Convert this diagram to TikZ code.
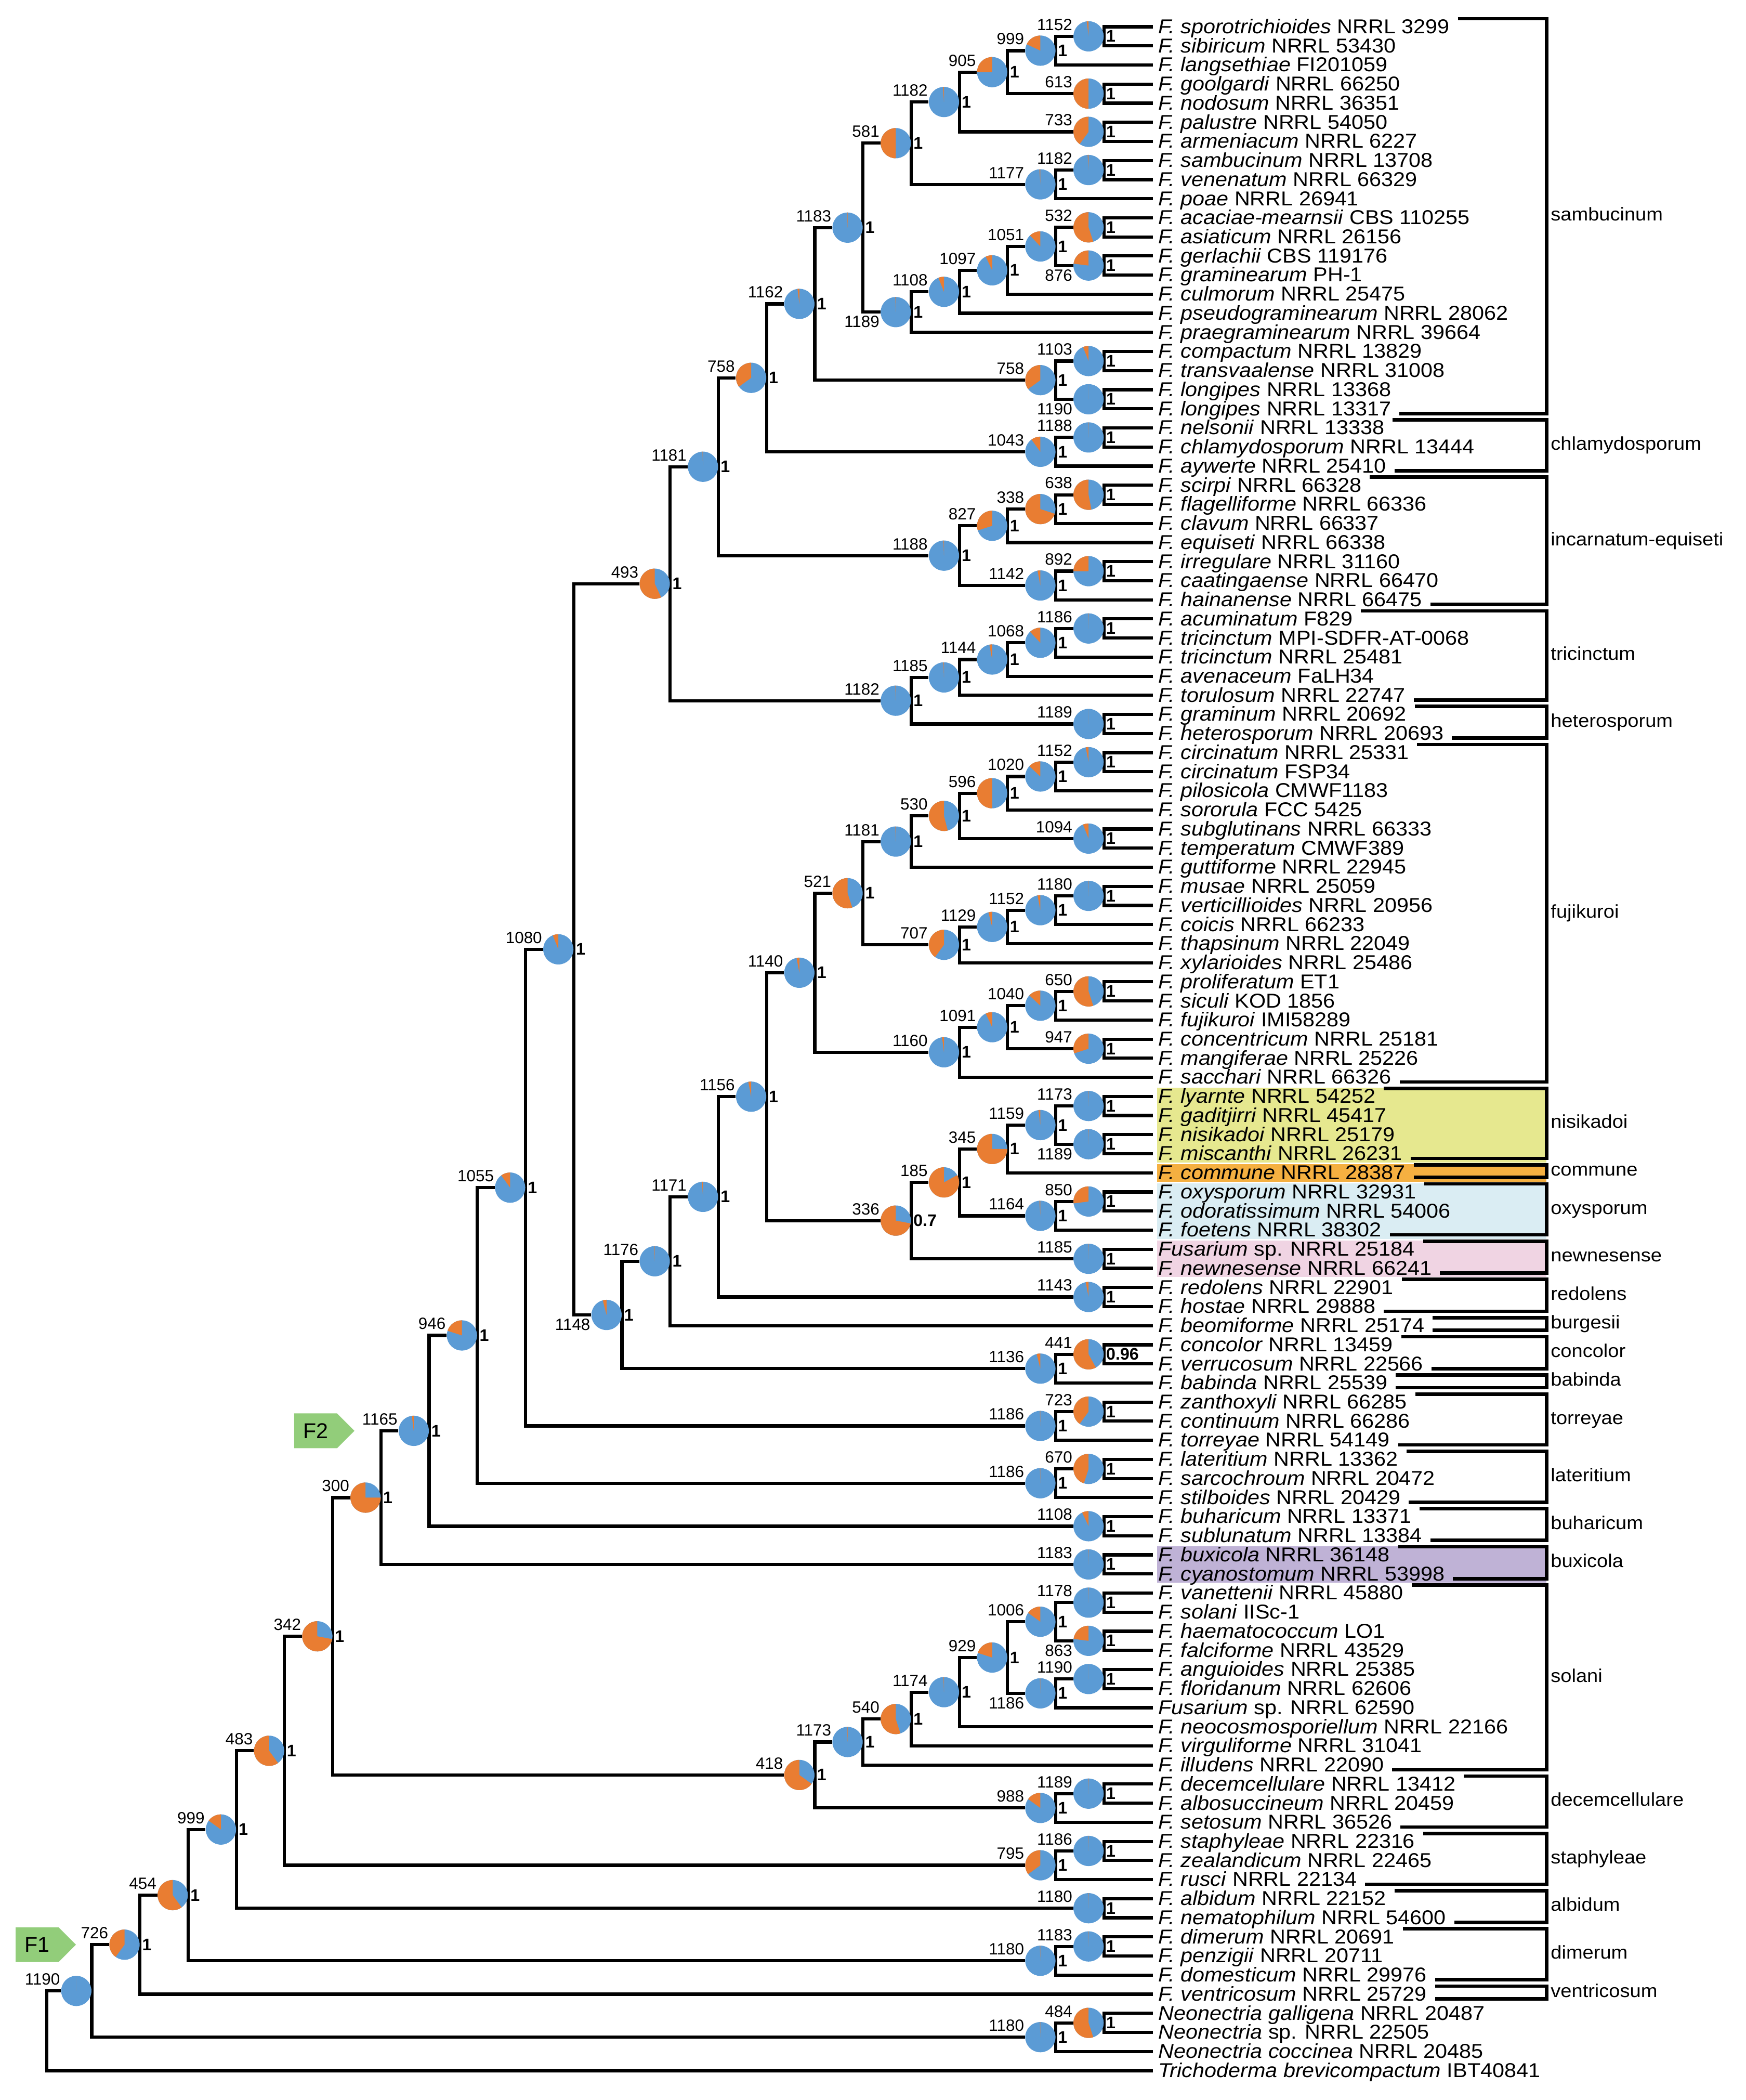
\documentclass[tikz,border=0pt]{standalone}
\usepackage{fontspec}
\setmainfont{Liberation Sans}
\newfontfamily\leaffont[FakeStretch=1.07]{Liberation Sans}
\usetikzlibrary{calc,shapes.symbols,backgrounds}

\definecolor{pblue}{RGB}{91,155,213}
\definecolor{porange}{RGB}{233,125,50}
\definecolor{fgreen}{RGB}{146,205,122}
\definecolor{cnisi}{RGB}{230,232,143}
\definecolor{ccomm}{RGB}{245,176,65}
\definecolor{coxy}{RGB}{218,237,243}
\definecolor{cnewn}{RGB}{240,212,227}
\definecolor{cbuxi}{RGB}{191,178,214}

\newcommand{\fus}[1]{\textit{F. #1}}

% name, level, child 1, child 2, orange share, count, support, count above/below
\newcommand{\pienode}[8]{%
	\path let \p1=(#3), \p2=(#4) in node[pnd] (#1) at ({(57+36*#2)*1pt},{0.5*(\y1+\y2)}) {};
	\draw[branch] (#1.east) |- (#3.west);
	\draw[branch] (#1.east) |- (#4.west);
	\fill[pblue] (#1.center) circle[radius=11.3pt];
	\fill[porange] (#1.center) -- ++(90:11.3pt) arc[start angle=90, delta angle={360*#5}, radius=11.3pt] -- cycle;
	\node[supp] (s#1) at ([xshift=1.5pt]#1.east) {#7};
	\node[cnt#8] (c#1) at (#1.center) {#6};
}

% top leaf, bottom leaf, name, label
\newcommand{\cladebar}[4]{%
	\draw[bracket] let \p1=(#1.east), \p2=(#2.east) in
		(\x1+2pt,\y1+6pt) -- (1155pt,\y1+6pt) -- (1155pt,\y2-3.5pt) -- (\x2+2pt,\y2-3.5pt);
	\path let \p1=(#1.east), \p2=(#2.east) in
		node[grp] (#3) at (1158pt,{0.5*(\y1+\y2)+1.25pt}) {#4};
}

\tikzset{
	branch/.style={line width=2.4pt},
	bracket/.style={line width=2.6pt},
	pnd/.style={circle, minimum size=22.6pt, inner sep=0pt},
	leaf/.style={anchor=west, inner xsep=4pt, inner ysep=0pt, text height=13.5pt, text depth=3.5pt, font=\fontsize{15}{16}\leaffont},
	grp/.style={anchor=west, inner sep=0pt, text height=10pt, text depth=3pt, font=\fontsize{13.8}{15}\leaffont},
	cnt/.style={inner sep=0pt, font=\fontsize{12.2}{13}\selectfont},
	cnta/.style={cnt, anchor=base east, xshift=-12pt, yshift=4.5pt},
	cntb/.style={cnt, anchor=base east, xshift=-12pt, yshift=-11.5pt},
	supp/.style={anchor=west, inner sep=0pt, font=\fontsize{12.5}{13}\selectfont\bfseries},
	fmark/.style={signal, signal to=east, fill=fgreen, minimum width=45pt, minimum height=26pt, inner sep=0pt, font=\fontsize{16}{17}\selectfont},
}

\begin{document}
\begin{tikzpicture}[x=1pt, y=1pt]
	\useasboundingbox (0,0) rectangle (1304,-1568);
	%
	\foreach \txt [count=\i] in {
		{\fus{sporotrichioides} NRRL 3299}, {\fus{sibiricum} NRRL 53430}, {\fus{langsethiae} FI201059},
		{\fus{goolgardi} NRRL 66250}, {\fus{nodosum} NRRL 36351}, {\fus{palustre} NRRL 54050},
		{\fus{armeniacum} NRRL 6227}, {\fus{sambucinum} NRRL 13708}, {\fus{venenatum} NRRL 66329},
		{\fus{poae} NRRL 26941}, {\fus{acaciae-mearnsii} CBS 110255}, {\fus{asiaticum} NRRL 26156},
		{\fus{gerlachii} CBS 119176}, {\fus{graminearum} PH-1}, {\fus{culmorum} NRRL 25475},
		{\fus{pseudograminearum} NRRL 28062}, {\fus{praegraminearum} NRRL 39664}, {\fus{compactum} NRRL 13829},
		{\fus{transvaalense} NRRL 31008}, {\fus{longipes} NRRL 13368}, {\fus{longipes} NRRL 13317},
		{\fus{nelsonii} NRRL 13338}, {\fus{chlamydosporum} NRRL 13444}, {\fus{aywerte} NRRL 25410},
		{\fus{scirpi} NRRL 66328}, {\fus{flagelliforme} NRRL 66336}, {\fus{clavum} NRRL 66337},
		{\fus{equiseti} NRRL 66338}, {\fus{irregulare} NRRL 31160}, {\fus{caatingaense} NRRL 66470},
		{\fus{hainanense} NRRL 66475}, {\fus{acuminatum} F829}, {\fus{tricinctum} MPI-SDFR-AT-0068},
		{\fus{tricinctum} NRRL 25481}, {\fus{avenaceum} FaLH34}, {\fus{torulosum} NRRL 22747},
		{\fus{graminum} NRRL 20692}, {\fus{heterosporum} NRRL 20693}, {\fus{circinatum} NRRL 25331},
		{\fus{circinatum} FSP34}, {\fus{pilosicola} CMWF1183}, {\fus{sororula} FCC 5425},
		{\fus{subglutinans} NRRL 66333}, {\fus{temperatum} CMWF389}, {\fus{guttiforme} NRRL 22945},
		{\fus{musae} NRRL 25059}, {\fus{verticillioides} NRRL 20956}, {\fus{coicis} NRRL 66233},
		{\fus{thapsinum} NRRL 22049}, {\fus{xylarioides} NRRL 25486}, {\fus{proliferatum} ET1},
		{\fus{siculi} KOD 1856}, {\fus{fujikuroi} IMI58289}, {\fus{concentricum} NRRL 25181},
		{\fus{mangiferae} NRRL 25226}, {\fus{sacchari} NRRL 66326}, {\fus{lyarnte} NRRL 54252},
		{\fus{gaditjirri} NRRL 45417}, {\fus{nisikadoi} NRRL 25179}, {\fus{miscanthi} NRRL 26231},
		{\fus{commune} NRRL 28387}, {\fus{oxysporum} NRRL 32931}, {\fus{odoratissimum} NRRL 54006},
		{\fus{foetens} NRRL 38302}, {\textit{Fusarium} sp. NRRL 25184}, {\fus{newnesense} NRRL 66241},
		{\fus{redolens} NRRL 22901}, {\fus{hostae} NRRL 29888}, {\fus{beomiforme} NRRL 25174},
		{\fus{concolor} NRRL 13459}, {\fus{verrucosum} NRRL 22566}, {\fus{babinda} NRRL 25539},
		{\fus{zanthoxyli} NRRL 66285}, {\fus{continuum} NRRL 66286}, {\fus{torreyae} NRRL 54149},
		{\fus{lateritium} NRRL 13362}, {\fus{sarcochroum} NRRL 20472}, {\fus{stilboides} NRRL 20429},
		{\fus{buharicum} NRRL 13371}, {\fus{sublunatum} NRRL 13384}, {\fus{buxicola} NRRL 36148},
		{\fus{cyanostomum} NRRL 53998}, {\fus{vanettenii} NRRL 45880}, {\fus{solani} IISc-1},
		{\fus{haematococcum} LO1}, {\fus{falciforme} NRRL 43529}, {\fus{anguioides} NRRL 25385},
		{\fus{floridanum} NRRL 62606}, {\textit{Fusarium} sp. NRRL 62590}, {\fus{neocosmosporiellum} NRRL 22166},
		{\fus{virguliforme} NRRL 31041}, {\fus{illudens} NRRL 22090}, {\fus{decemcellulare} NRRL 13412},
		{\fus{albosuccineum} NRRL 20459}, {\fus{setosum} NRRL 36526}, {\fus{staphyleae} NRRL 22316},
		{\fus{zealandicum} NRRL 22465}, {\fus{rusci} NRRL 22134}, {\fus{albidum} NRRL 22152},
		{\fus{nematophilum} NRRL 54600}, {\fus{dimerum} NRRL 20691}, {\fus{penzigii} NRRL 20711},
		{\fus{domesticum} NRRL 29976}, {\fus{ventricosum} NRRL 25729}, {\textit{Neonectria galligena} NRRL 20487},
		{\textit{Neonectria} sp. NRRL 22505}, {\textit{Neonectria coccinea} NRRL 20485}, {\textit{Trichoderma brevicompactum} IBT40841}
	}{\node[leaf] (l\i) at (861pt,{-20pt-(\i-1)*14.262pt}) {\txt};}
	%
	\begin{scope}[on background layer]
		\fill[cnisi] let \p1=(l57.west), \p2=(l60.west) in (\x1+3pt,\y1+6.6pt) rectangle (1155pt,\y2-6.6pt);
		\fill[ccomm] let \p1=(l61.west) in (\x1+3pt,\y1+6.6pt) rectangle (1155pt,\y1-6.6pt);
		\fill[coxy] let \p1=(l62.west), \p2=(l64.west) in (\x1+3pt,\y1+6.6pt) rectangle (1155pt,\y2-6.6pt);
		\fill[cnewn] let \p1=(l65.west), \p2=(l66.west) in (\x1+3pt,\y1+6.6pt) rectangle (1155pt,\y2-6.6pt);
		\fill[cbuxi] let \p1=(l81.west), \p2=(l82.west) in (\x1+3pt,\y1+6.6pt) rectangle (1155pt,\y2-6.6pt);
	\end{scope}
	%
	\pienode{n1152a}{21}{l1}{l2}{0.02}{1152}{1}{a}
	\pienode{n999a}{20}{n1152a}{l3}{0.18}{999}{1}{a}
	\pienode{n613}{21}{l4}{l5}{0.5}{613}{1}{a}
	\pienode{n905}{19}{n999a}{n613}{0.25}{905}{1}{a}
	\pienode{n733}{21}{l6}{l7}{0.4}{733}{1}{a}
	\pienode{n1182a}{18}{n905}{n733}{0.01}{1182}{1}{a}
	\pienode{n1182b}{21}{l8}{l9}{0.01}{1182}{1}{a}
	\pienode{n1177}{20}{n1182b}{l10}{0.01}{1177}{1}{a}
	\pienode{n581}{17}{n1182a}{n1177}{0.5}{581}{1}{a}
	\pienode{n532}{21}{l11}{l12}{0.55}{532}{1}{a}
	\pienode{n876}{21}{l13}{l14}{0.23}{876}{1}{b}
	\pienode{n1051}{20}{n532}{n876}{0.12}{1051}{1}{a}
	\pienode{n1097}{19}{n1051}{l15}{0.07}{1097}{1}{a}
	\pienode{n1108a}{18}{n1097}{l16}{0.06}{1108}{1}{a}
	\pienode{n1189a}{17}{n1108a}{l17}{0.005}{1189}{1}{b}
	\pienode{n1183a}{16}{n581}{n1189a}{0.005}{1183}{1}{a}
	\pienode{n1103}{21}{l18}{l19}{0.06}{1103}{1}{a}
	\pienode{n1190a}{21}{l20}{l21}{0}{1190}{1}{b}
	\pienode{n758a}{20}{n1103}{n1190a}{0.35}{758}{1}{a}
	\pienode{n1162}{15}{n1183a}{n758a}{0.02}{1162}{1}{a}
	%
	\pienode{n1188a}{21}{l22}{l23}{0.005}{1188}{1}{a}
	\pienode{n1043}{20}{n1188a}{l24}{0.1}{1043}{1}{a}
	\pienode{n758b}{14}{n1162}{n1043}{0.35}{758}{1}{a}
	%
	\pienode{n638}{21}{l25}{l26}{0.53}{638}{1}{a}
	\pienode{n338}{20}{n638}{l27}{0.7}{338}{1}{a}
	\pienode{n827}{19}{n338}{l28}{0.3}{827}{1}{a}
	\pienode{n892}{21}{l29}{l30}{0.25}{892}{1}{a}
	\pienode{n1142}{20}{n892}{l31}{0.03}{1142}{1}{a}
	\pienode{n1188b}{18}{n827}{n1142}{0.005}{1188}{1}{a}
	\pienode{n1181a}{13}{n758b}{n1188b}{0.005}{1181}{1}{a}
	%
	\pienode{n1186a}{21}{l32}{l33}{0.005}{1186}{1}{a}
	\pienode{n1068}{20}{n1186a}{l34}{0.12}{1068}{1}{a}
	\pienode{n1144}{19}{n1068}{l35}{0.03}{1144}{1}{a}
	\pienode{n1185a}{18}{n1144}{l36}{0.005}{1185}{1}{a}
	\pienode{n1189b}{21}{l37}{l38}{0}{1189}{1}{a}
	\pienode{n1182c}{17}{n1185a}{n1189b}{0.005}{1182}{1}{a}
	\pienode{n493}{12}{n1181a}{n1182c}{0.57}{493}{1}{a}
	%
	\pienode{n1152b}{21}{l39}{l40}{0.03}{1152}{1}{a}
	\pienode{n1020}{20}{n1152b}{l41}{0.13}{1020}{1}{a}
	\pienode{n596}{19}{n1020}{l42}{0.5}{596}{1}{a}
	\pienode{n1094}{21}{l43}{l44}{0.06}{1094}{1}{a}
	\pienode{n530}{18}{n596}{n1094}{0.54}{530}{1}{a}
	\pienode{n1181b}{17}{n530}{l45}{0.005}{1181}{1}{a}
	\pienode{n1180a}{21}{l46}{l47}{0.005}{1180}{1}{a}
	\pienode{n1152c}{20}{n1180a}{l48}{0.03}{1152}{1}{a}
	\pienode{n1129}{19}{n1152c}{l49}{0.04}{1129}{1}{a}
	\pienode{n707}{18}{n1129}{l50}{0.4}{707}{1}{a}
	\pienode{n521}{16}{n1181b}{n707}{0.55}{521}{1}{a}
	\pienode{n650}{21}{l51}{l52}{0.55}{650}{1}{a}
	\pienode{n1040}{20}{n650}{l53}{0.13}{1040}{1}{a}
	\pienode{n947}{21}{l54}{l55}{0.3}{947}{1}{a}
	\pienode{n1091}{19}{n1040}{n947}{0.07}{1091}{1}{a}
	\pienode{n1160}{18}{n1091}{l56}{0.02}{1160}{1}{a}
	\pienode{n1140}{15}{n521}{n1160}{0.03}{1140}{1}{a}
	%
	\pienode{n1173a}{21}{l57}{l58}{0.005}{1173}{1}{a}
	\pienode{n1189c}{21}{l59}{l60}{0.005}{1189}{1}{b}
	\pienode{n1159}{20}{n1173a}{n1189c}{0.02}{1159}{1}{a}
	\pienode{n345}{19}{n1159}{l61}{0.75}{345}{1}{a}
	\pienode{n850}{21}{l62}{l63}{0.27}{850}{1}{a}
	\pienode{n1164}{20}{n850}{l64}{0.01}{1164}{1}{a}
	\pienode{n185}{18}{n345}{n1164}{0.83}{185}{1}{a}
	\pienode{n1185b}{21}{l65}{l66}{0.005}{1185}{1}{a}
	\pienode{n336}{17}{n185}{n1185b}{0.72}{336}{0.7}{a}
	\pienode{n1156}{14}{n1140}{n336}{0.03}{1156}{1}{a}
	\pienode{n1143}{21}{l67}{l68}{0.03}{1143}{1}{a}
	\pienode{n1171}{13}{n1156}{n1143}{0.01}{1171}{1}{a}
	\pienode{n1176}{12}{n1171}{l69}{0.005}{1176}{1}{a}
	\pienode{n441}{21}{l70}{l71}{0.58}{441}{0.96}{a}
	\pienode{n1136}{20}{n441}{l72}{0.04}{1136}{1}{a}
	\pienode{n1148}{11}{n1176}{n1136}{0.04}{1148}{1}{b}
	\pienode{n1080}{10}{n493}{n1148}{0.06}{1080}{1}{a}
	%
	\pienode{n723}{21}{l73}{l74}{0.4}{723}{1}{a}
	\pienode{n1186b}{20}{n723}{l75}{0.005}{1186}{1}{a}
	\pienode{n1055}{9}{n1080}{n1186b}{0.1}{1055}{1}{a}
	\pienode{n670}{21}{l76}{l77}{0.45}{670}{1}{a}
	\pienode{n1186c}{20}{n670}{l78}{0.005}{1186}{1}{a}
	\pienode{n946}{8}{n1055}{n1186c}{0.2}{946}{1}{a}
	\pienode{n1108b}{21}{l79}{l80}{0.07}{1108}{1}{a}
	\pienode{n1165}{7}{n946}{n1108b}{0.02}{1165}{1}{a}
	\pienode{n1183b}{21}{l81}{l82}{0.005}{1183}{1}{a}
	\pienode{n300}{6}{n1165}{n1183b}{0.75}{300}{1}{a}
	%
	\pienode{n1178}{21}{l83}{l84}{0.005}{1178}{1}{a}
	\pienode{n863}{21}{l85}{l86}{0.23}{863}{1}{b}
	\pienode{n1006}{20}{n1178}{n863}{0.15}{1006}{1}{a}
	\pienode{n1190b}{21}{l87}{l88}{0}{1190}{1}{a}
	\pienode{n1186d}{20}{n1190b}{l89}{0.005}{1186}{1}{b}
	\pienode{n929}{19}{n1006}{n1186d}{0.2}{929}{1}{a}
	\pienode{n1174}{18}{n929}{l90}{0.005}{1174}{1}{a}
	\pienode{n540}{17}{n1174}{l91}{0.55}{540}{1}{a}
	\pienode{n1173b}{16}{n540}{l92}{0.005}{1173}{1}{a}
	\pienode{n1189d}{21}{l93}{l94}{0.005}{1189}{1}{a}
	\pienode{n988}{20}{n1189d}{l95}{0.15}{988}{1}{a}
	\pienode{n418}{15}{n1173b}{n988}{0.65}{418}{1}{a}
	\pienode{n342}{5}{n300}{n418}{0.72}{342}{1}{a}
	%
	\pienode{n1186e}{21}{l96}{l97}{0.005}{1186}{1}{a}
	\pienode{n795}{20}{n1186e}{l98}{0.35}{795}{1}{a}
	\pienode{n483}{4}{n342}{n795}{0.6}{483}{1}{a}
	\pienode{n1180b}{21}{l99}{l100}{0.005}{1180}{1}{a}
	\pienode{n999b}{3}{n483}{n1180b}{0.15}{999}{1}{a}
	\pienode{n1183c}{21}{l101}{l102}{0.005}{1183}{1}{a}
	\pienode{n1180c}{20}{n1183c}{l103}{0.005}{1180}{1}{a}
	\pienode{n454}{2}{n999b}{n1180c}{0.6}{454}{1}{a}
	\pienode{n726}{1}{n454}{l104}{0.4}{726}{1}{a}
	\pienode{n484}{21}{l105}{l106}{0.55}{484}{1}{a}
	\pienode{n1180d}{20}{n484}{l107}{0.005}{1180}{1}{a}
	\pienode{n1190c}{0}{n726}{n1180d}{0}{1190}{}{a}
	%
	\path let \p1=(n1190c), \p2=(l108) in coordinate (r0) at (35pt,{0.5*(\y1+\y2)});
	\draw[branch] (r0) |- (n1190c.west);
	\draw[branch] (r0) |- (l108.west);
	%
	\node[fmark, anchor=east] (f2) at ([xshift=-44pt]n1165.center) {F2};
	\node[fmark, anchor=east] (f1) at ([xshift=-36pt]n726.center) {F1};
	%
	\cladebar{l1}{l21}{g1}{sambucinum}
	\cladebar{l22}{l24}{g2}{chlamydosporum}
	\cladebar{l25}{l31}{g3}{incarnatum-equiseti}
	\cladebar{l32}{l36}{g4}{tricinctum}
	\cladebar{l37}{l38}{g5}{heterosporum}
	\cladebar{l39}{l56}{g6}{fujikuroi}
	\cladebar{l57}{l60}{g7}{nisikadoi}
	\cladebar{l61}{l61}{g8}{commune}
	\cladebar{l62}{l64}{g9}{oxysporum}
	\cladebar{l65}{l66}{g10}{newnesense}
	\cladebar{l67}{l68}{g11}{redolens}
	\cladebar{l69}{l69}{g12}{burgesii}
	\cladebar{l70}{l71}{g13}{concolor}
	\cladebar{l72}{l72}{g14}{babinda}
	\cladebar{l73}{l75}{g15}{torreyae}
	\cladebar{l76}{l78}{g16}{lateritium}
	\cladebar{l79}{l80}{g17}{buharicum}
	\cladebar{l81}{l82}{g18}{buxicola}
	\cladebar{l83}{l92}{g19}{solani}
	\cladebar{l93}{l95}{g20}{decemcellulare}
	\cladebar{l96}{l98}{g21}{staphyleae}
	\cladebar{l99}{l100}{g22}{albidum}
	\cladebar{l101}{l103}{g23}{dimerum}
	\cladebar{l104}{l104}{g24}{ventricosum}
\end{tikzpicture}
\end{document}
